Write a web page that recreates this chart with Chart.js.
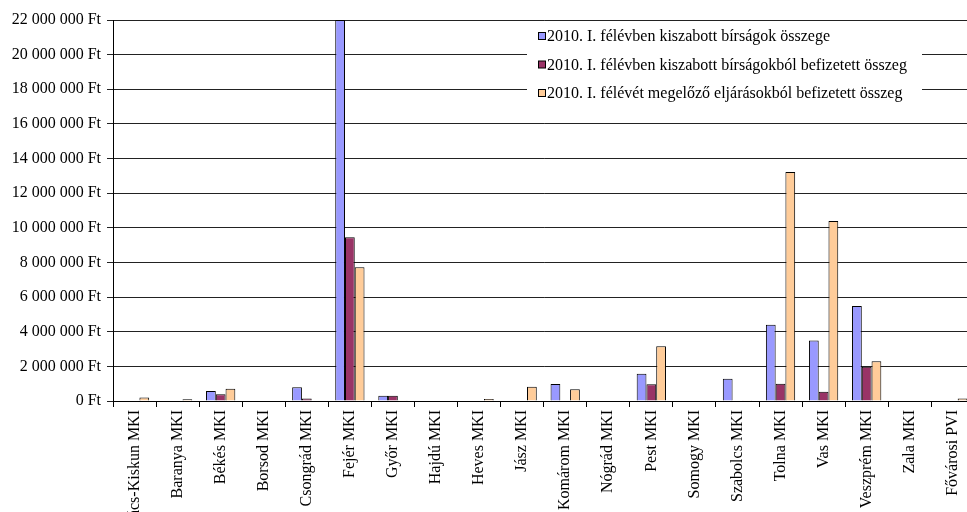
<!DOCTYPE html>
<html>
<head>
<meta charset="utf-8">
<script src="https://cdn.jsdelivr.net/npm/chart.js@4"></script>
<style>
  body { margin: 0; background: #fff; overflow: hidden; }
  .wrap { width: 975px; height: 512px; }
</style>
</head>
<body>
<div class="wrap"><canvas id="myChart"></canvas></div>
<script>
const categories = [
  "Bács-Kiskun MKI", "Baranya MKI", "Békés MKI", "Borsod MKI", "Csongrád MKI",
  "Fejér MKI", "Győr MKI", "Hajdú MKI", "Heves MKI", "Jász MKI",
  "Komárom MKI", "Nógrád MKI", "Pest MKI", "Somogy MKI", "Szabolcs MKI",
  "Tolna MKI", "Vas MKI", "Veszprém MKI", "Zala MKI", "Fővárosi PVI"
];
const seriesLabels = [
  "2010. I. félévben kiszabott bírságok összege",
  "2010. I. félévben kiszabott bírságokból befizetett összeg",
  "2010. I. félévét megelőző eljárásokból befizetett összeg"
];
// 2010. I. félévben kiszabott bírságok összege
const imposed = [
  0, 0, 580000, 0, 790000,
  22000000, 300000, 0, 0, 0,
  980000, 0, 1580000, 0, 1290000,
  4410000, 3490000, 5490000, 0, 0
];
// kiszabott bírságokból befizetett összeg
const paidFromImposed = [
  0, 0, 390000, 0, 150000,
  9460000, 300000, 0, 0, 0,
  0, 0, 960000, 0, 0,
  1000000, 540000, 1980000, 0, 0
];
// megelőző eljárásokból befizetett összeg
const paidEarlier = [
  200000, 100000, 710000, 0, 0,
  7720000, 50000, 0, 120000, 830000,
  680000, 0, 3160000, 0, 50000,
  13220000, 10390000, 2290000, 0, 150000
];
const colors = ["#9999FF", "#993366", "#FFCC99"];
const yTicks = { min: 0, max: 22000000, step: 2000000 };

const font = { family: "'Liberation Serif', 'Times New Roman', serif", size: 16 };

function formatFt(v) {
  return String(v).replace(/\B(?=(\d{3})+(?!\d))/g, " ") + " Ft";
}

// legend drawn as a white box over the gridlines, like the original
const boxLegend = {
  id: "boxLegend",
  afterDraw(chart) {
    const ctx = chart.ctx;
    ctx.save();
    ctx.fillStyle = "#fff";
    ctx.fillRect(527, 24, 395, 86);
    ctx.font = font.size + "px " + font.family;
    ctx.textBaseline = "middle";
    chart.data.datasets.forEach((ds, i) => {
      const y = 36 + i * 28.5;
      ctx.fillStyle = ds.backgroundColor;
      ctx.fillRect(538.5, y - 3.5, 7, 7);
      ctx.strokeStyle = "#000";
      ctx.lineWidth = 1;
      ctx.strokeRect(538.5, y - 3.5, 7, 7);
      ctx.fillStyle = "#000";
      ctx.fillText(ds.label, 547, y + 1);
    });
    ctx.restore();
  }
};

const dataChart = {
  labels: categories,
  datasets: [imposed, paidFromImposed, paidEarlier].map((d, i) => ({
    label: seriesLabels[i],
    data: d,
    backgroundColor: colors[i],
    borderColor: "#000",
    borderWidth: 1,
    borderSkipped: "bottom",
    categoryPercentage: 0.68,
    barPercentage: 1.0
  }))
};

const config = {
  type: "bar",
  data: dataChart,
  options: {
    responsive: true,
    maintainAspectRatio: false,
    animation: false,
    layout: { padding: { top: 20, right: 0, left: 0, bottom: 0 } },
    plugins: {
      legend: { display: false },
      tooltip: { enabled: false }
    },
    scales: {
      x: {
        afterFit: (axis) => { axis.height = 111; },
        grid: { offset: true, drawOnChartArea: false, drawTicks: true, tickLength: 6, color: "#000" },
        border: { color: "#000" },
        ticks: { font, color: "#000", minRotation: 90, maxRotation: 90, autoSkip: false, padding: 3 }
      },
      y: {
        min: yTicks.min,
        max: yTicks.max,
        afterFit: (axis) => { axis.width = 113; },
        grid: { color: "#222", tickLength: 6 },
        border: { color: "#000" },
        ticks: {
          stepSize: yTicks.step,
          font,
          color: "#000",
          padding: 6,
          callback: (v) => formatFt(v)
        }
      }
    }
  },
  plugins: [boxLegend]
};

new Chart(document.getElementById("myChart"), config);
</script>
</body>
</html>
